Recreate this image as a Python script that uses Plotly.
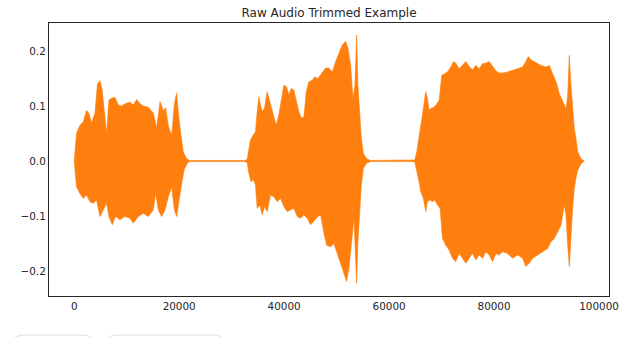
import plotly.graph_objects as go

# Upper envelope of the waveform (sample index, amplitude)
upper_x = [0, 439, 1088, 1718, 2347, 2805, 3302, 3950, 4447, 4905, 5344, 5725, 6164, 6622, 7118,
           7767, 8397, 9027, 9676, 10630, 11260, 11889, 12538, 13168, 14122, 15076, 15706, 16355,
           16985, 17424, 17939, 18569, 19084, 19523, 19847, 20363, 20802, 21431, 22000, 27000, 32500,
           32958, 33263, 33588, 34103, 34542, 34866, 35172, 35496, 35821, 36260, 36775, 37271, 37729,
           38035, 38493, 38989, 39447, 39943, 40458, 40897, 41355, 41851, 42366, 42805, 43263, 43759,
           44217, 44714, 45362, 45801, 46431, 47080, 47900, 48530, 49179, 49809, 50439, 51088, 51718,
           52157, 52672, 53111, 53493, 53817, 54065, 54389, 54713, 55095, 55725, 56488, 60000, 64500,
           64886, 65267, 65706, 66031, 66355, 66660, 66985, 67309, 67615, 68073, 68569, 69084, 69523,
           70038, 70477, 71126, 71756, 72271, 72710, 73340, 73989, 74618, 75248, 75897, 76527, 77157,
           77806, 78435, 79065, 79714, 80344, 80974, 81623, 82577, 83531, 84485, 85439, 86069, 86508,
           87023, 87653, 88302, 88932, 89886, 90516, 91031, 91470, 91928, 92424, 92939, 93378, 93703,
           94027, 94332, 94657, 94981, 95286, 95611, 95935, 96565, 97195]
upper_y = [0.0, 0.05, 0.065, 0.071, 0.092, 0.087, 0.069, 0.087, 0.141, 0.146, 0.129, 0.087, 0.05,
           0.111, 0.114, 0.116, 0.102, 0.10, 0.104, 0.107, 0.102, 0.112, 0.104, 0.10, 0.098, 0.087,
           0.06, 0.108, 0.092, 0.097, 0.064, 0.046, 0.104, 0.124, 0.087, 0.046, 0.016, 0.004, 0.001,
           0.001, 0.001,
           0.003, 0.023, 0.038, 0.047, 0.053, 0.090, 0.117, 0.102, 0.090, 0.096, 0.126, 0.108, 0.090,
           0.078, 0.065, 0.084, 0.108, 0.138, 0.135, 0.12, 0.132, 0.129, 0.108, 0.090, 0.078, 0.080,
           0.126, 0.144, 0.147, 0.153, 0.150, 0.159, 0.169, 0.169, 0.162, 0.181, 0.196, 0.211, 0.218,
           0.205, 0.175, 0.114, 0.138, 0.229, 0.138, 0.084, 0.041, 0.014, 0.004, 0.001, 0.001, 0.001,
           0.002, 0.017, 0.041, 0.059, 0.084, 0.105, 0.126, 0.114, 0.093, 0.096, 0.098, 0.104, 0.110,
           0.156, 0.159, 0.162, 0.171, 0.181, 0.178, 0.168, 0.174, 0.181, 0.172, 0.166, 0.174, 0.168,
           0.177, 0.178, 0.181, 0.172, 0.164, 0.16, 0.16, 0.162, 0.165, 0.168, 0.171, 0.181, 0.190,
           0.184, 0.181, 0.178, 0.174, 0.171, 0.174, 0.162, 0.15, 0.141, 0.123, 0.111, 0.101, 0.095,
           0.119, 0.192, 0.138, 0.089, 0.059, 0.041, 0.017, 0.004, 0.0]

# Lower envelope of the waveform (sample index, amplitude)
lower_x = [0, 439, 1088, 1718, 2347, 2996, 3626, 4256, 4905, 5534, 6164, 6622, 7252, 7882, 8721,
           9676, 10630, 11260, 12214, 13168, 14122, 15076, 15515, 16030, 16660, 17309, 17939, 18569,
           19084, 19523, 19981, 20477, 20992, 21622, 22000, 27000, 32500,
           32958, 33263, 33721, 34103, 34542, 34866, 35362, 35821, 36260, 36775, 37405, 38035, 38684,
           39313, 39943, 40592, 41221, 41851, 42500, 43130, 43759, 44408, 45038, 45668, 46431, 46947,
           47577, 48092, 48855, 49485, 50134, 50763, 51393, 51909, 52348, 52863, 53302, 53569, 53817,
           54065, 54389, 54713, 55095, 55725, 56488, 60000, 64500,
           64886, 65267, 65706, 66031, 66546, 66985, 67309, 67805, 68264, 68702, 69218, 69714, 70172,
           70802, 71431, 72080, 72710, 73340, 73989, 74618, 75248, 75897, 76527, 77157, 77806, 78435,
           79065, 79714, 80344, 80974, 81623, 82577, 83531, 84485, 85439, 86069, 86699, 87348, 88302,
           89256, 90210, 90840, 91470, 92119, 92748, 93378, 93703, 94027, 94332, 94657, 94981, 95286,
           95611, 95935, 96565, 97195]
lower_y = [0.0, -0.047, -0.059, -0.068, -0.062, -0.074, -0.077, -0.071, -0.101, -0.089, -0.077,
           -0.101, -0.116, -0.101, -0.107, -0.101, -0.104, -0.113, -0.101, -0.095, -0.101, -0.089,
           -0.059, -0.089, -0.101, -0.089, -0.065, -0.047, -0.089, -0.101, -0.077, -0.041, -0.015,
           -0.003, -0.001, -0.001, -0.001,
           -0.003, -0.022, -0.038, -0.033, -0.044, -0.086, -0.080, -0.098, -0.083, -0.092, -0.062,
           -0.065, -0.074, -0.068, -0.083, -0.092, -0.089, -0.086, -0.101, -0.104, -0.098, -0.104,
           -0.116, -0.110, -0.101, -0.098, -0.131, -0.153, -0.156, -0.150, -0.165, -0.183, -0.204,
           -0.219, -0.196, -0.147, -0.104, -0.147, -0.222, -0.147, -0.092, -0.044, -0.013, -0.004,
           -0.001, -0.001, -0.001,
           -0.002, -0.020, -0.038, -0.056, -0.068, -0.092, -0.074, -0.071, -0.074, -0.071, -0.080,
           -0.086, -0.141, -0.153, -0.162, -0.177, -0.183, -0.168, -0.177, -0.186, -0.177, -0.168,
           -0.180, -0.171, -0.177, -0.165, -0.171, -0.183, -0.168, -0.171, -0.165, -0.168, -0.177,
           -0.171, -0.177, -0.192, -0.186, -0.177, -0.171, -0.165, -0.159, -0.147, -0.141, -0.129,
           -0.117, -0.080, -0.098, -0.153, -0.192, -0.153, -0.086, -0.050, -0.031, -0.017, -0.005,
           0.0]

x_tickvals = [0, 20000, 40000, 60000, 80000, 100000]
x_ticktext = ["0", "20000", "40000", "60000", "80000", "100000"]
y_tickvals = [-0.2, -0.1, 0.0, 0.1, 0.2]
y_ticktext = ["\u22120.2", "\u22120.1", "0.0", "0.1", "0.2"]

title_text = "Raw Audio Trimmed Example"

ORANGE = "#ff7f0e"
TEXT = "#262626"

W, H = 619, 338

poly_x = upper_x + lower_x[::-1]
poly_y = upper_y + lower_y[::-1]

fig = go.Figure()
fig.add_trace(go.Scatter(
    x=poly_x, y=poly_y, mode="lines", fill="toself",
    line=dict(color=ORANGE, width=0.6), fillcolor=ORANGE,
    hoverinfo="skip", showlegend=False,
))

axis_common = dict(
    showline=True, mirror=True, linecolor=TEXT, linewidth=1.25,
    showgrid=False, zeroline=False, ticks="",
    tickfont=dict(family="DejaVu Sans", size=10.4, color=TEXT),
)

fig.update_layout(
    width=W, height=H, autosize=False,
    margin=dict(l=49, r=10, t=23, b=42, autoexpand=False),
    paper_bgcolor="white", plot_bgcolor="white",
    title=dict(text=title_text, x=(49 + 280) / W, xanchor="center",
               y=1 - 13 / H, yanchor="middle",
               font=dict(family="DejaVu Sans", size=12, color=TEXT)),
    xaxis=dict(range=[-4800, 101900], tickvals=x_tickvals, ticktext=x_ticktext, **axis_common),
    yaxis=dict(range=[-0.2455, 0.251], tickvals=y_tickvals, ticktext=y_ticktext, **axis_common),
    shapes=[
        dict(type="path", xref="paper", yref="paper",
             path="M -0.0625,-0.25 L -0.0625,-0.165 Q -0.0625,-0.143 -0.045,-0.143 "
                  "L 0.059,-0.143 Q 0.0768,-0.143 0.0768,-0.165 L 0.0768,-0.25",
             line=dict(color="#dddddd", width=1)),
        dict(type="path", xref="paper", yref="paper",
             path="M 0.105,-0.25 L 0.105,-0.165 Q 0.105,-0.143 0.123,-0.143 "
                  "L 0.291,-0.143 Q 0.309,-0.143 0.309,-0.165 L 0.309,-0.25",
             line=dict(color="#dddddd", width=1)),
    ],
)

fig.write_html(
    "out.html",
    config={"displayModeBar": False},
    post_script="document.body.style.margin='0';document.body.style.overflow='hidden';",
)
